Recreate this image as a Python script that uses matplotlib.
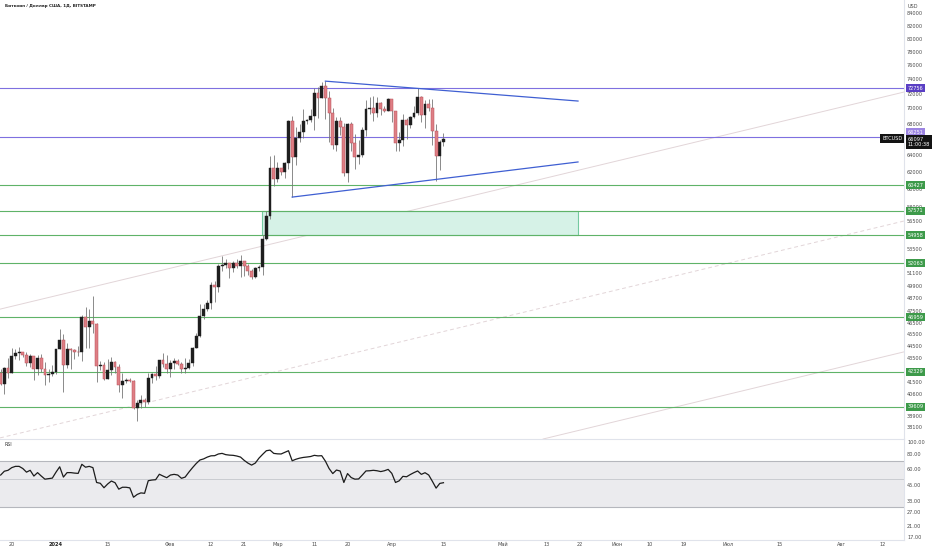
import numpy as np
import pandas as pd
import matplotlib
matplotlib.use('Agg')
import matplotlib.pyplot as plt
import matplotlib.dates as mdates
import matplotlib.transforms as mtrans
from matplotlib.patches import Rectangle

plt.rcParams['font.family'] = ['DejaVu Sans']

# ---------------- data ----------------
start_date = '2023-12-17'
opens = [42270, 41370, 42660, 42270, 43670, 43860, 43990, 43730, 43010, 43600, 42520, 43450, 42590, 42090, 42150,
         42280, 44190, 44960, 42850, 44180, 44160, 43970, 43940, 46970, 46120, 46660, 46350, 42780, 42850, 41730, 42510,
         43150, 42740, 41260, 41620, 41670, 41590, 39500, 39870, 40080, 39940, 41820, 42120, 42030, 43300, 42950,
         42570, 43080, 43190, 43000, 42580, 42660, 43090, 44340, 45290, 47130, 47750, 48290, 49960, 49740, 51830,
         51930, 52130, 51660, 52120, 51780, 52260, 51850, 51300, 50740, 51570, 51730, 54520, 57050, 62500,
         61200, 62440, 62030, 63130, 68330, 63800, 66100, 66930, 68300, 68500, 69020, 72100, 71480, 73100, 71400,
         69400, 65300, 68400, 67600, 61900, 67900, 65500, 63800, 64100, 67200, 69900, 70000, 69400, 70800, 69900, 69700,
         71300, 69700, 65500, 65900, 68500, 67800, 68900, 69400, 71600, 69100, 70600, 70000, 67100, 63900, 65700]
highs = [42600, 42750, 43480, 44280, 44240, 44380, 44000, 43950, 43790, 43600, 43680, 43800, 43130, 42600, 42900,
         44200, 45900, 45500, 44750, 44300, 44200, 44500, 47200, 47900, 47700, 48970, 46500, 43250, 43100, 43400, 43580,
         43200, 42930, 42200, 41850, 41870, 41690, 40130, 40500, 40280, 42200, 42200, 42840, 43300, 43880, 43750,
         43280, 43480, 43380, 43100, 43500, 43400, 44350, 45600, 48200, 48150, 48550, 50300, 50350, 52000, 52800,
         52550, 52150, 52350, 52500, 52950, 52350, 52000, 51550, 51700, 51950, 54950, 57550, 63900, 64000,
         63150, 62450, 63230, 68500, 69000, 67600, 67950, 69950, 68600, 69950, 72800, 72950, 73650, 73750, 72400,
         70000, 68900, 68900, 68100, 68100, 68200, 66650, 65950, 67600, 71150, 71550, 71700, 71550, 70900, 70300, 71350,
         71300, 69700, 66900, 69250, 68750, 69000, 70300, 72750, 71750, 71200, 71250, 71300, 67950, 65850, 66850]
lows = [41250, 40550, 41820, 42210, 43400, 43300, 43580, 42780, 42750, 41660, 42100, 42320, 41300, 41550, 41960,
        42190, 44190, 40750, 42650, 42600, 43400, 43600, 43200, 44300, 44300, 45600, 41500, 42450, 41700, 41730, 42050,
        42200, 40700, 40300, 41450, 41500, 39450, 38500, 39500, 39550, 39800, 41400, 41650, 41800, 42700, 42270,
        41880, 42580, 42880, 42250, 42250, 42580, 42800, 44340, 45250, 46850, 47550, 47700, 48400, 49300, 51350,
        51600, 50650, 51180, 51600, 50700, 50800, 50900, 50500, 50600, 51300, 50900, 54450, 56700, 60400,
        60800, 61650, 61300, 62350, 59100, 62800, 65600, 66150, 67900, 68150, 67200, 68800, 71350, 68550, 65600,
        64800, 64550, 66600, 61500, 60800, 64600, 62300, 63000, 63800, 66400, 69300, 68400, 68900, 69100, 69500, 69600,
        68200, 64500, 64500, 65100, 66000, 67450, 68800, 69100, 68250, 67500, 69600, 65300, 61000, 62200, 65100]
closes = [41370, 42660, 42270, 43670, 43860, 43990, 43730, 43010, 43600, 42520, 43450, 42590, 42090, 42150, 42280,
          44190, 44960, 42850, 44180, 44160, 43970, 43940, 46970, 46120, 46660, 46350, 42780, 42850, 41730, 42510, 43150,
          42740, 41260, 41620, 41670, 41590, 39500, 39870, 40080, 39940, 41820, 42120, 42030, 43300, 42950, 42570,
          43080, 43190, 43000, 42580, 42660, 43090, 44340, 45290, 47130, 47750, 48290, 49960, 49740, 51830, 51930,
          52130, 51660, 52120, 51780, 52260, 51850, 51300, 50740, 51570, 51730, 54520, 57050, 62500, 61200,
          62440, 62030, 63130, 68330, 63800, 66100, 66930, 68300, 68500, 69020, 72100, 71480, 73100, 71400, 69400,
          65300, 68400, 67600, 61900, 67900, 65500, 63800, 64100, 67200, 69900, 70000, 69400, 70800, 69900, 69700, 71300,
          69700, 65500, 65900, 68500, 67800, 68900, 69400, 71600, 69100, 70600, 70000, 67100, 63900, 65700, 66097]
rsi = [54, 58, 59, 62, 63.5, 63.5, 61, 57, 59, 53, 56.5, 53, 50, 50.5, 51,
       57, 63, 52, 56.5, 56.5, 56, 55.7, 66, 62.5, 63.5, 62, 47, 46.3, 42.6, 45.7, 48.3,
       46.8, 41.5, 43, 43, 42.5, 35.7, 37.6, 38.7, 38.4, 48.6, 49.2, 49.5, 54.8, 53, 51.4,
       54, 54.7, 54, 50.8, 52, 57, 62, 67, 71.5, 73, 75.5, 77.3, 77.5, 80, 80.9,
       79, 78.3, 78, 77, 75.5, 71, 67.5, 65, 67.5, 74, 79.5, 85, 86, 80.9,
       80.2, 80, 82.5, 85, 70.5, 72.5, 74, 75, 75.6, 76.3, 78, 77.2, 77.5, 70, 61,
       55.5, 59.3, 58.2, 47, 55.5, 51.5, 50, 50.2, 54, 58.3, 58.5, 59, 58.5, 57.6, 58.5, 60,
       55.7, 47, 48.5, 52.7, 52.3, 54.5, 56.5, 58.3, 54.7, 56.4, 54, 48, 42.3, 46.2, 46.8]

green_levels = [60427, 57571, 54958, 52063, 46959, 42329, 39609]
purple_levels = [72756, 66251]
last_price = 66097
countdown = '11:00:38'

zone_dates = ['2024-02-25 20:00', '2024-05-21 11:00']
zone_prices = [54958, 57571]
tri_upper_dates = ['2024-03-14', '2024-05-21 11:00']
tri_upper_prices = [73750, 71000]
tri_lower_dates = ['2024-03-05', '2024-05-21 11:00']
tri_lower_prices = [59100, 63200]
trend1_dates = ['2023-12-16 20:00', '2024-08-17 19:00']
trend1_prices = [47714, 72230]
trend2_dates = ['2023-12-16 20:00', '2024-08-17 19:00']
trend2_prices = [37312, 56460]
trend3_dates = ['2024-05-12', '2024-08-17 19:00']
trend3_prices = [37234, 43975]

price_ticks = [84000, 82000, 80000, 78000, 76000, 74000, 72000, 70000, 68000, 64000, 62000, 60000, 58000,
               56500, 53500, 51100, 49900, 48700, 47500, 46500, 45500, 44500, 43500, 41500, 40600, 38900, 38100]
rsi_ticks = [100, 80, 60, 45, 33, 27, 21, 17]
date_ticks = ['2023-12-20', '2024-01-01', '2024-01-15', '2024-02-01', '2024-02-12', '2024-02-21', '2024-03-01',
              '2024-03-11', '2024-03-20', '2024-04-01', '2024-04-15', '2024-05-01', '2024-05-13', '2024-05-22',
              '2024-06-01', '2024-06-10', '2024-06-19', '2024-07-01', '2024-07-15', '2024-08-01', '2024-08-12']
date_labels = ['20', '2024', '15', 'Фев', '12', '21', 'Мар', '11', '20', 'Апр', '15', 'Май', '13', '22',
               'Июн', '10', '19', 'Июл', '15', 'Авг', '12']

# ---------------- figure ----------------
W, H = 932, 550
fig = plt.figure(figsize=(W / 100, H / 100), dpi=100)
fig.patch.set_facecolor('white')
ax = fig.add_axes([0, 1 - 439 / H, 904 / W, 439 / H])
axr = fig.add_axes([0, (H - 540) / H, 904 / W, (540 - 439) / H], sharex=ax)

dates = pd.date_range(start_date, periods=len(closes), freq='D')
xd = mdates.date2num(dates)
o = np.array(opens, float); h = np.array(highs, float)
l = np.array(lows, float); c = np.array(closes, float)
up = c >= o

ax.set_yscale('log')
ax.set_ylim(37234, 86112)
jan1 = mdates.date2num(pd.Timestamp('2024-01-01'))
ax.set_xlim(jan1 - 15.18, jan1 + 229.8)

def dn(s):
    return mdates.date2num(pd.Timestamp(s))

# faint trend lines
ax.plot([dn(d) for d in trend1_dates], trend1_prices, color='#e2d5d8', lw=0.7, zorder=1)
ax.plot([dn(d) for d in trend2_dates], trend2_prices, color='#e2d5d8', lw=0.7, ls=(0, (4, 3)), zorder=1)
ax.plot([dn(d) for d in trend3_dates], trend3_prices, color='#e2d5d8', lw=0.7, zorder=1)

# zone
zx0, zx1 = dn(zone_dates[0]), dn(zone_dates[1])
ax.add_patch(Rectangle((zx0, zone_prices[0]), zx1 - zx0, zone_prices[1] - zone_prices[0],
                       facecolor='#d6f2e7', edgecolor='#74c9a0', lw=0.8, zorder=1.5))

# horizontal levels
for v in green_levels:
    ax.axhline(v, color='#5fb368', lw=0.8, zorder=2)
for v in purple_levels:
    ax.axhline(v, color='#7f70e0', lw=0.8, zorder=2)

# candles
ax.vlines(xd, l, h, color='#777777', lw=0.6, zorder=3)
bottoms = np.minimum(o, c)
heights = np.maximum(np.abs(c - o), c * 0.0012)
ax.bar(xd[up], heights[up], bottom=bottoms[up], width=0.78, color='#1e1e1e', edgecolor='#1e1e1e', lw=0.3, zorder=4)
ax.bar(xd[~up], heights[~up], bottom=bottoms[~up], width=0.78, color='#de7f85', edgecolor='#b9505a', lw=0.35, zorder=4)

# triangle
ax.plot([dn(d) for d in tri_upper_dates], tri_upper_prices, color='#3f5fd2', lw=0.9, zorder=5)
ax.plot([dn(d) for d in tri_lower_dates], tri_lower_prices, color='#3f5fd2', lw=0.9, zorder=5)

# axes style
for a in (ax, axr):
    for s in ('left', 'top', 'bottom'):
        a.spines[s].set_visible(False)
    a.spines['right'].set_color('#e0e3eb')
    a.spines['right'].set_linewidth(0.8)
    a.yaxis.tick_right()
    a.tick_params(axis='y', length=0, pad=2.2, labelsize=3.6, labelcolor='#4a4a4a')
    a.minorticks_off()
axr.spines['top'].set_visible(True)
axr.spines['top'].set_color('#e0e3eb')
axr.spines['bottom'].set_visible(True)
axr.spines['bottom'].set_color('#e0e3eb')

ax.set_yticks(price_ticks)
ax.set_yticklabels([str(t) for t in price_ticks])
ax.yaxis.set_minor_locator(matplotlib.ticker.NullLocator())
ax.tick_params(axis='x', bottom=False, labelbottom=False)

# right-side labels
trans = mtrans.blended_transform_factory(ax.transAxes, ax.transData)
for v in green_levels:
    ax.text(1.004, v, str(v), transform=trans, ha='left', va='center', fontsize=3.6, color='white',
            bbox=dict(boxstyle='square,pad=0.3', fc='#3d9a4a', ec='none'), clip_on=False, zorder=20)
ax.text(1.004, purple_levels[0], str(purple_levels[0]), transform=trans, ha='left', va='center', fontsize=3.6,
        color='white', bbox=dict(boxstyle='square,pad=0.3', fc='#5a3fc4', ec='none'), clip_on=False, zorder=20)
ax.annotate(str(purple_levels[1]), xy=(1.004, purple_levels[1]), xycoords=trans, xytext=(0, 3.5),
            textcoords='offset points', ha='left', va='center', fontsize=3.6, color='white',
            bbox=dict(boxstyle='square,pad=0.3', fc='#9c84e2', ec='none'), annotation_clip=False, zorder=21)
ax.annotate(f'{last_price}\n{countdown}', xy=(1.004, last_price), xycoords=trans, xytext=(0, -2.6),
            textcoords='offset points', ha='left', va='center', fontsize=3.6, color='white', linespacing=1.05,
            bbox=dict(boxstyle='square,pad=0.35', fc='#131313', ec='none'), annotation_clip=False, zorder=22)
ax.annotate('BTCUSD', xy=(0.998, last_price), xycoords=trans, xytext=(0, 0),
            textcoords='offset points', ha='right', va='center', fontsize=3.6, color='white',
            bbox=dict(boxstyle='square,pad=0.35', fc='#131313', ec='none'), annotation_clip=False, zorder=22)

fig.text(5 / W, 1 - 6 / H, 'Биткоин / Доллар США, 1Д, BITSTAMP', ha='left', va='center', fontsize=3.0,
         fontweight='bold', color='#222222')
fig.text(913 / W, 1 - 6 / H, 'USD', ha='center', va='center', fontsize=3.6, color='#4a4a4a')

# ---------------- RSI ----------------
axr.set_yscale('log')
axr.set_ylim(16.07, 105.8)
axr.axhspan(30, 70, color='#ebebee', zorder=0, lw=0)
axr.axhline(70, color='#b5b7bd', lw=0.8, zorder=1)
axr.axhline(30, color='#b5b7bd', lw=0.8, zorder=1)
axr.axhline(50, color='#c4c6cc', lw=0.6, zorder=1)
axr.plot(xd, rsi, color='#1c1c1c', lw=0.9, zorder=3)
axr.set_yticks(rsi_ticks)
axr.set_yticklabels([f'{t:.2f}' for t in rsi_ticks])
axr.yaxis.set_minor_locator(matplotlib.ticker.NullLocator())
axr.text(0.0045, 0.95, 'RSI', transform=axr.transAxes, ha='left', va='center',
         fontsize=3.4, color='#333333')

axr.set_xticks([dn(d) for d in date_ticks])
axr.set_xticklabels(date_labels)
axr.tick_params(axis='x', length=0, pad=1.6, labelsize=3.6, labelcolor='#4a4a4a')
for lbl in axr.get_xticklabels():
    if lbl.get_text() == '2024':
        lbl.set_fontweight('bold')
        lbl.set_color('#222222')
axr.minorticks_off()

fig.savefig('out.png', dpi=100)
